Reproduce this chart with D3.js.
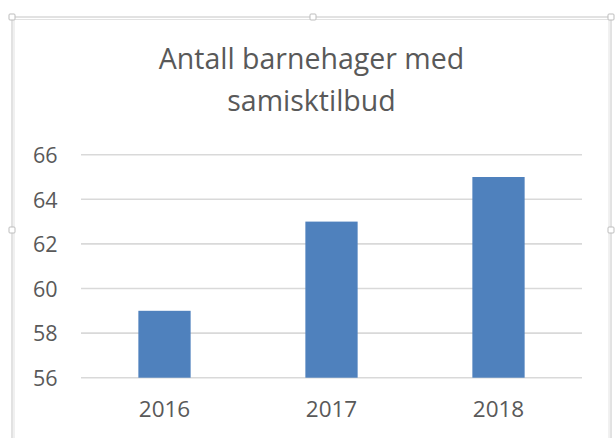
<!DOCTYPE html>
<html>
<head>
<meta charset="utf-8">
<script src="https://cdn.jsdelivr.net/npm/d3@7"></script>
<style>
  html, body { margin: 0; padding: 0; background: #fff; }
  svg { display: block; }
  text { font-family: "Open Sans", sans-serif; fill: #595959; }
</style>
</head>
<body>
<svg width="615" height="438"></svg>
<script>
// chart data
var years = ['2016', '2017', '2018'];
var counts = [59, 63, 65];
var yTicks = [56, 58, 60, 62, 64, 66];
var titleLines = ['Antall barnehager med', 'samisktilbud'];

var svg = d3.select('svg');

// frame of the chart object (selection outline + chart border)
svg.append('rect').attr('x', 12).attr('y', 17).attr('width', 599).attr('height', 440)
  .attr('fill', 'none').attr('stroke', '#c6c6c6').attr('stroke-width', 1);
svg.append('rect').attr('x', 14).attr('y', 19.5).attr('width', 595).attr('height', 440)
  .attr('fill', 'none').attr('stroke', '#e2e2e2').attr('stroke-width', 1);

// sizing handles
var handles = [[12, 17], [313, 17], [611, 17], [12, 230], [611, 230]];
svg.selectAll('rect.handle').data(handles).enter().append('rect')
  .attr('class', 'handle')
  .attr('x', function(d) { return d[0] - 3; }).attr('y', function(d) { return d[1] - 3; })
  .attr('width', 6).attr('height', 6).attr('rx', 1)
  .attr('fill', '#fff').attr('stroke', '#bdbdbd');

var x = d3.scaleBand().domain(years).range([81, 582]).paddingInner(0.687).paddingOuter(0.3435);
var y = d3.scaleLinear().domain([56, 66]).range([377.7, 154.7]);

// gridlines
svg.append('g').selectAll('line').data(yTicks).enter().append('line')
  .attr('x1', 81).attr('x2', 582)
  .attr('y1', function(d) { return y(d); }).attr('y2', function(d) { return y(d); })
  .attr('stroke', '#d9d9d9').attr('stroke-width', 1.6);

// bars
svg.append('g').selectAll('rect').data(counts).enter().append('rect')
  .attr('x', function(d, i) { return x(years[i]); })
  .attr('width', x.bandwidth())
  .attr('y', function(d) { return y(d); })
  .attr('height', function(d) { return y(56) - y(d); })
  .attr('fill', '#4f81bd');

// y axis labels
var yAxis = d3.axisLeft(y).tickValues(yTicks).tickSize(0).tickPadding(0);
var ya = svg.append('g').attr('transform', 'translate(57.5,0)').call(yAxis);
ya.select('.domain').remove();
ya.selectAll('text').style('font-family', '"Open Sans", sans-serif').attr('font-size', 21.5).attr('fill', '#595959').attr('dy', '0.36em');

// x axis labels
var xAxis = d3.axisBottom(x).tickSize(0).tickPadding(0);
var xa = svg.append('g').attr('transform', 'translate(0,401)').call(xAxis);
xa.select('.domain').remove();
xa.selectAll('text').style('font-family', '"Open Sans", sans-serif').attr('font-size', 22.5).attr('fill', '#595959').attr('dy', '0.73em');

// title
svg.append('g').selectAll('text').data(titleLines).enter().append('text')
  .attr('x', 311.5).attr('y', function(d, i) { return 69 + i * 42; })
  .attr('text-anchor', 'middle').attr('font-size', 28.5)
  .text(function(d) { return d; });
</script>
</body>
</html>
